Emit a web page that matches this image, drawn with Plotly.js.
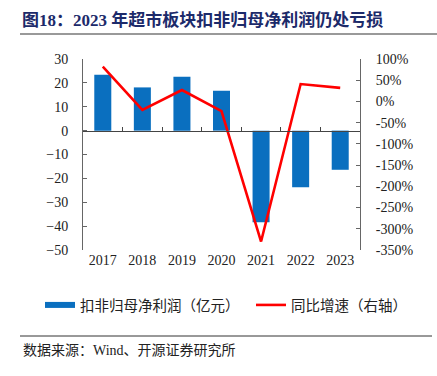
<!DOCTYPE html>
<html><head><meta charset="utf-8">
<script src="https://cdn.plot.ly/plotly-3.0.1.min.js"></script>
<style>html,body{margin:0;padding:0;background:#fff;}#chart{width:437px;height:376px;}</style>
</head><body><div id="chart"></div>
<script>
const years = ['2017','2018','2019','2020','2021','2022','2023'];
const profit = [23.4, 18.1, 22.6, 16.7, -38.4, -23.7, -16.4];
const growth = [82, -20, 27, -23, -330, 41, 32];
const leftTicks = [30, 20, 10, 0, -10, -20, -30, -40, -50];
const rightTicks = [100, 50, 0, -50, -100, -150, -200, -250, -300, -350];
const rightTickText = ['100%', '50%', '0%', '-50%', '-100%', '-150%', '-200%', '-250%', '-300%', '-350%'];

const serif = '"Liberation Serif", "Times New Roman", serif';
const cjk = '"Liberation Serif", "Noto Sans CJK SC", serif';
const blue = '#0a6fbf';
const red = '#ff0000';

const L = 83, R = 360, T = 59, B = 250, W = 437, H = 376;
const px = x => (x - L) / (R - L);
const py = y => (B - y) / (B - T);

const traces = [
  {type: 'bar', x: years, y: profit, marker: {color: blue}, width: 0.43,
   showlegend: false, hoverinfo: 'skip'},
  {type: 'scatter', mode: 'lines', x: years, y: growth, xaxis: 'x2', yaxis: 'y2',
   line: {color: red, width: 2.6}, name: '同比增速（右轴）', legend: 'legend2'},
  {type: 'scatter', mode: 'lines', x: [null], y: [null], line: {color: blue, width: 6},
   name: '扣非归母净利润（亿元）', legend: 'legend'}
];

const layout = {
  width: W, height: H,
  margin: {l: L, r: W - R, t: T, b: H - B, pad: 0},
  paper_bgcolor: '#fff', plot_bgcolor: '#fff',
  font: {family: serif, size: 14, color: '#222'},
  title: {text: '<b>图18：2023 年超市板块扣非归母净利润仍处亏损</b>', xref: 'container', yref: 'container',
          x: 22 / W, xanchor: 'left', y: 1 - 20 / H, yanchor: 'middle',
          font: {family: cjk, size: 17, color: '#1c2a6a'}},
  xaxis: {type: 'category', range: [-0.5, 6.5], showline: false, ticks: '', showgrid: false, zeroline: false,
          tickfont: {family: serif, size: 14, color: '#222'}, fixedrange: true},
  xaxis2: {type: 'category', range: [-0.5, 6.5], overlaying: 'x', anchor: 'free', position: 50 / 80, side: 'bottom',
           showline: true, linecolor: '#444', linewidth: 1, ticks: 'inside', ticklen: 4, tickcolor: '#444',
           tickson: 'boundaries', showticklabels: false, showgrid: false, zeroline: false},
  yaxis: {range: [-50, 30], tickvals: leftTicks, ticks: 'inside', ticklen: 4, tickcolor: '#666',
          showline: true, linecolor: '#666', linewidth: 1, showgrid: false, zeroline: false,
          ticklabelstandoff: 11, tickfont: {family: serif, size: 14, color: '#222'}},
  yaxis2: {range: [-350, 100], tickvals: rightTicks, ticktext: rightTickText, overlaying: 'y', side: 'right',
           anchor: 'x', ticks: 'inside', ticklen: 4, tickcolor: '#666',
           showline: true, linecolor: '#666', linewidth: 1, showgrid: false, zeroline: false,
           ticklabelstandoff: 12, tickfont: {family: serif, size: 14, color: '#222'}},
  legend: {orientation: 'h', xref: 'container', yref: 'container', x: 40 / W, xanchor: 'left',
           y: 1 - 305 / H, yanchor: 'middle', font: {family: cjk, size: 14.5, color: '#222'},
           bgcolor: 'rgba(0,0,0,0)', itemwidth: 30},
  legend2: {orientation: 'h', xref: 'container', yref: 'container', x: 251 / W, xanchor: 'left',
            y: 1 - 305 / H, yanchor: 'middle', font: {family: cjk, size: 14.5, color: '#222'},
            bgcolor: 'rgba(0,0,0,0)', itemwidth: 30},
  shapes: [
    {type: 'line', xref: 'paper', yref: 'paper', x0: px(20), x1: px(437), y0: py(34), y1: py(34),
     line: {color: '#999', width: 2}},
    {type: 'line', xref: 'paper', yref: 'paper', x0: px(20), x1: px(432), y0: py(336), y1: py(336),
     line: {color: '#333', width: 1}}
  ],
  annotations: [
    {text: '数据来源：Wind、开源证券研究所', xref: 'paper', yref: 'paper', x: px(21), y: py(350),
     xanchor: 'left', yanchor: 'middle', showarrow: false,
     font: {family: cjk, size: 14, color: '#222'}}
  ]
};

Plotly.newPlot('chart', traces, layout, {staticPlot: true, displayModeBar: false});
</script></body></html>
